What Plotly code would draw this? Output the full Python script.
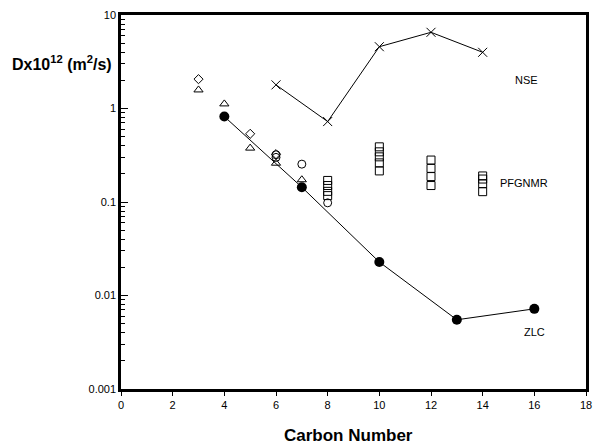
import plotly.graph_objects as go

# ZLC (filled circles, joined)
zlc_x = [4, 7, 10, 13, 16]
zlc_y = [0.82, 0.144, 0.0228, 0.0055, 0.0072]
# NSE (crosses, joined)
nse_x = [6, 8, 10, 12, 14]
nse_y = [1.79, 0.725, 4.58, 6.53, 3.99]
# other series
dia_x = [3, 5, 6]
dia_y = [2.06, 0.536, 0.325]
tri_x = [3, 4, 5, 6, 7]
tri_y = [1.58, 1.12, 0.377, 0.26, 0.173]
cir_x = [6, 6, 7, 8]
cir_y = [0.32, 0.30, 0.254, 0.098]
# PFGNMR (open squares)
sq_x = [8, 8, 8, 8, 10, 10, 10, 10, 10, 12, 12, 12, 12, 14, 14, 14, 14]
sq_y = [0.17, 0.15, 0.13, 0.117, 0.389, 0.344, 0.304, 0.262, 0.215,
        0.281, 0.229, 0.187, 0.150, 0.19, 0.176, 0.157, 0.129]

x_ticks = [0, 2, 4, 6, 8, 10, 12, 14, 16, 18]
y_ticks = [0.001, 0.01, 0.1, 1, 10]
y_ticktext = ["0.001", "0.01", "0.1", "1", "10"]
y_minor = [m * 10 ** e for e in range(-3, 1) for m in range(2, 10)]

FONT = "Liberation Sans, Arial, sans-serif"

fig = go.Figure()
fig.add_trace(go.Scatter(x=sq_x, y=sq_y, mode="markers",
                         marker=dict(symbol="square-open", size=8, color="black", line=dict(width=1))))
fig.add_trace(go.Scatter(x=cir_x, y=cir_y, mode="markers",
                         marker=dict(symbol="circle-open", size=8, color="black", line=dict(width=1))))
fig.add_trace(go.Scatter(x=tri_x, y=tri_y, mode="markers",
                         marker=dict(symbol="triangle-up-open", size=8, color="black", line=dict(width=1))))
fig.add_trace(go.Scatter(x=dia_x, y=dia_y, mode="markers",
                         marker=dict(symbol="diamond-open", size=7, color="black", line=dict(width=1))))
fig.add_trace(go.Scatter(x=nse_x, y=nse_y, mode="lines+markers",
                         line=dict(color="black", width=1),
                         marker=dict(symbol="x-thin-open", size=9, color="black", line=dict(width=1, color="black"))))
fig.add_trace(go.Scatter(x=zlc_x, y=zlc_y, mode="lines+markers",
                         line=dict(color="black", width=1),
                         marker=dict(symbol="circle", size=10, color="black")))

fig.add_annotation(x=15.71, y=0.305, xref="x", yref="y", text="NSE", showarrow=False,
                   font=dict(family=FONT, size=11, color="black"))
fig.add_annotation(x=15.6, y=-0.798, xref="x", yref="y", text="PFGNMR", showarrow=False,
                   font=dict(family=FONT, size=11, color="black"))
fig.add_annotation(x=16.02, y=-2.39, xref="x", yref="y", text="ZLC", showarrow=False,
                   font=dict(family=FONT, size=11, color="black"))

fig.add_annotation(x=-0.127, y=0.872, xref="paper", yref="paper",
                   text="<b>Dx10<sup>12</sup> (m<sup>2</sup>/s)</b>", showarrow=False,
                   xanchor="center", yanchor="middle",
                   font=dict(family=FONT, size=16, color="black"))
fig.add_annotation(x=0.49, y=-0.094, xref="paper", yref="paper",
                   text="<b>Carbon Number</b>", showarrow=False,
                   xanchor="center", yanchor="top",
                   font=dict(family=FONT, size=17, color="black"))

fig.update_layout(
    width=596, height=445,
    margin=dict(l=121, r=4, t=15, b=56),
    paper_bgcolor="white", plot_bgcolor="white",
    showlegend=False,
    font=dict(family=FONT, size=11, color="black"),
    xaxis=dict(range=[0, 18], tickvals=x_ticks, ticks="outside", ticklen=4,
               tickwidth=1, tickcolor="black", showgrid=False, zeroline=False,
               showline=True, linewidth=2.5, linecolor="black", mirror=True,
               tickfont=dict(family=FONT, size=11)),
    yaxis=dict(type="log", range=[-3, 1], tickvals=y_ticks, ticktext=y_ticktext,
               ticks="inside", ticklen=7, tickwidth=1, tickcolor="black",
               showgrid=False, zeroline=False,
               showline=True, linewidth=2.5, linecolor="black", mirror=True,
               tickfont=dict(family=FONT, size=11),
               minor=dict(tickvals=y_minor, ticks="inside", ticklen=4,
                          tickcolor="black", tickwidth=1, showgrid=False)),
)

fig.write_html("out.html", config={"displayModeBar": False},
               post_script="document.body.style.margin='0';")
